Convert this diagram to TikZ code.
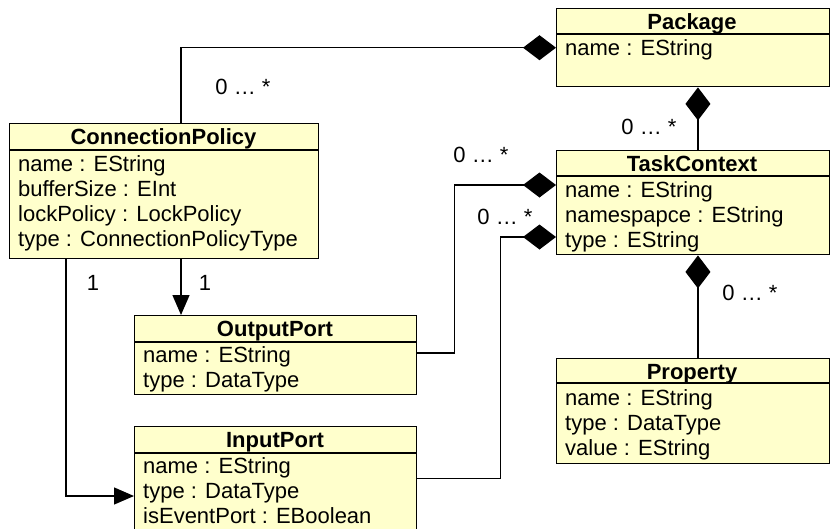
\documentclass[tikz,border=0pt]{standalone}
\usepackage{fontspec}
\setmainfont{Liberation Sans}
\usetikzlibrary{arrows.meta}
\definecolor{umlyellow}{RGB}{255,255,204}
\tikzset{
  classbox/.style={draw, line width=1.4pt, fill=umlyellow, inner sep=0pt, anchor=north west},
  classline/.style={line width=1.4pt},
  classtitle/.style={font=\bfseries\fontsize{22}{25}\selectfont, anchor=base, inner sep=0pt},
  attr/.style={font=\fontsize{22}{25}\selectfont, anchor=base west, inner sep=0pt},
  mult/.style={font=\fontsize{22}{25}\selectfont, inner sep=0pt},
  comp/.style={line width=1.3pt, -{Diamond[length=33pt,width=25pt]}},
  nav/.style={line width=1.3pt, -{Triangle[length=20pt,width=17pt]}}
}
\begin{document}
\begin{tikzpicture}[x=1pt,y=-1pt]
\fill[white] (0,0) rectangle (830,528);
\useasboundingbox (0,0) rectangle (830,528);
% class boxes
\node[classbox, minimum width=272.5pt, minimum height=78pt] (pkg) at (556,8) {};
\node[classbox, minimum width=309pt, minimum height=135pt] (cp) at (9,123) {};
\node[classbox, minimum width=272.5pt, minimum height=104pt] (tc) at (556,150) {};
\node[classbox, minimum width=282pt, minimum height=79pt] (op) at (134,315) {};
\node[classbox, minimum width=282pt, minimum height=104pt] (ip) at (134,426) {};
\node[classbox, minimum width=272.5pt, minimum height=105pt] (prop) at (556,358) {};
\draw[classline] ([yshift=-26pt]pkg.north west) -- ([yshift=-26pt]pkg.north east);
\draw[classline] ([yshift=-27pt]cp.north west) -- ([yshift=-27pt]cp.north east);
\draw[classline] ([yshift=-26pt]tc.north west) -- ([yshift=-26pt]tc.north east);
\draw[classline] ([yshift=-27pt]op.north west) -- ([yshift=-27pt]op.north east);
\draw[classline] ([yshift=-27pt]ip.north west) -- ([yshift=-27pt]ip.north east);
\draw[classline] ([yshift=-25pt]prop.north west) -- ([yshift=-25pt]prop.north east);
% titles
\node[classtitle] (pkgtitle) at (692,29) {Package};
\node[classtitle] (cptitle) at (163.5,144) {ConnectionPolicy};
\node[classtitle] (tctitle) at (692,171) {TaskContext};
\node[classtitle] (optitle) at (275,336) {OutputPort};
\node[classtitle] (iptitle) at (275,447) {InputPort};
\node[classtitle] (proptitle) at (692,379) {Property};
% attributes
\node[attr] (pkgname) at (565,55) {name : EString};
\node[attr] (cpname) at (18,171) {name : EString};
\node[attr] (cpbuffer) at (18,196) {bufferSize : EInt};
\node[attr] (cplock) at (18,221) {lockPolicy : LockPolicy};
\node[attr] (cptype) at (18,246) {type : ConnectionPolicyType};
\node[attr] (tcname) at (565,197) {name : EString};
\node[attr] (tcns) at (565,222) {namespapce : EString};
\node[attr] (tctype) at (565,247) {type : EString};
\node[attr] (opname) at (143,362) {name : EString};
\node[attr] (optype) at (143,387) {type : DataType};
\node[attr] (ipname) at (143,473) {name : EString};
\node[attr] (iptype) at (143,498) {type : DataType};
\node[attr] (ipevent) at (143,523) {isEventPort : EBoolean};
\node[attr] (propname) at (565,405) {name : EString};
\node[attr] (proptype) at (565,430) {type : DataType};
\node[attr] (propvalue) at (565,455) {value : EString};
% connectors
\draw[comp] ([xshift=172pt]cp.north west) |- (pkg.west);
\draw[comp] ([xshift=5pt]tc.north) -- ([xshift=5pt]pkg.south);
\draw[comp] ([yshift=-38pt]op.north east) -- ++(37,0) |- ([yshift=-35pt]tc.north west);
\draw[comp] (ip.east) -- ++(83,0) |- ([yshift=-87pt]tc.north west);
\draw[comp] ([xshift=5pt]prop.north) -- ([xshift=5pt]tc.south);
\draw[nav] ([xshift=172pt]cp.south west) -- ([xshift=47pt]op.north west);
\draw[nav] ([xshift=57pt]cp.south west) |- ([yshift=-70pt]ip.north west);
% multiplicities
\node[mult] (mpkgcp) at (243,87) {0 … *};
\node[mult] (mpkgtc) at (649,127) {0 … *};
\node[mult] (mop) at (481,155) {0 … *};
\node[mult] (mip) at (505,217) {0 … *};
\node[mult] (mprop) at (750,293) {0 … *};
\node[mult] (mcpip) at (93,283) {1};
\node[mult] (mcpop) at (205,283) {1};
\end{tikzpicture}
\end{document}
